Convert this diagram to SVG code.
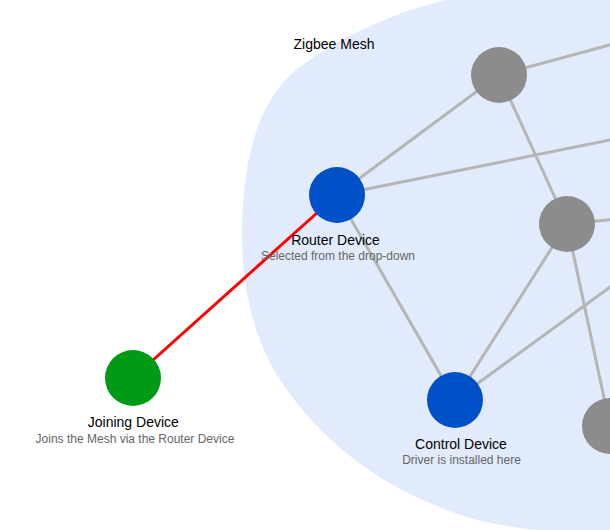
<svg xmlns="http://www.w3.org/2000/svg" width="610" height="530" viewBox="0 0 610 530">
<style>
.edge{stroke:#b5b5b5;stroke-width:3;fill:none}
.red{stroke:#ff0000;stroke-width:3;fill:none}
.gray{fill:#8c8c8c}
.blue{fill:#0050c8}
.green{fill:#009b14}
.t{font-family:"Liberation Sans",Arial,sans-serif;font-size:14px;fill:#000;text-anchor:middle}
.s{font-family:"Liberation Sans",Arial,sans-serif;font-size:12px;fill:#666;text-anchor:middle}
</style>
<rect width="610" height="530" fill="#fff"/>
<path id="mesh" d="M 445,0 C 395,12 330,40 290,75 C 255,110 245,160 242,220 C 240,290 255,340 280,380 C 320,440 380,490 470,518 C 500,526 530,530 560,532 L 620,532 L 620,0 Z" fill="#e2ebfc"/>
<text class="t" x="334" y="49">Zigbee Mesh</text>
<g id="connectors">
<line class="edge" x1="499" y1="75" x2="650" y2="34"/>
<line class="edge" x1="337" y1="195" x2="499" y2="75"/>
<line class="edge" x1="337" y1="195" x2="650" y2="132"/>
<line class="edge" x1="499" y1="75" x2="567" y2="224"/>
<line class="edge" x1="567" y1="224" x2="650" y2="216"/>
<line class="edge" x1="567" y1="224" x2="455" y2="400"/>
<line class="edge" x1="567" y1="224" x2="610" y2="426"/>
<line class="edge" x1="455" y1="400" x2="650" y2="258"/>
<line class="edge" x1="337" y1="195" x2="455" y2="400"/>
<line class="red" x1="133" y1="378" x2="337" y2="195"/>
</g>
<g id="node-top"><circle class="gray" cx="499" cy="75" r="28"/></g>
<g id="node-mid"><circle class="gray" cx="567" cy="224" r="28"/></g>
<g id="node-br"><circle class="gray" cx="610" cy="426" r="28"/></g>
<g id="node-router"><circle class="blue" cx="337" cy="195" r="28"/>
<text class="t" x="335.5" y="245">Router Device</text>
<text class="s" x="338" y="259.5">Selected from the drop-down</text></g>
<g id="node-control"><circle class="blue" cx="455" cy="400" r="28"/>
<text class="t" x="461" y="449">Control Device</text>
<text class="s" x="461.5" y="464">Driver is installed here</text></g>
<g id="node-joining"><circle class="green" cx="133" cy="378" r="28"/>
<text class="t" x="133.3" y="427">Joining Device</text>
<text class="s" x="135" y="442.5">Joins the Mesh via the Router Device</text></g>
</svg>
